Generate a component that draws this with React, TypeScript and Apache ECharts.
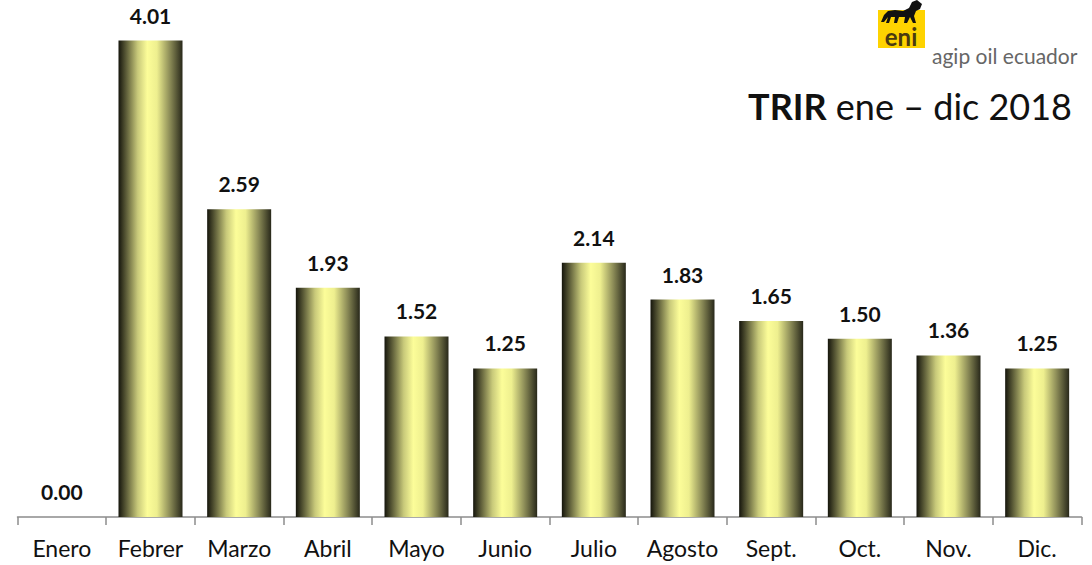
import React, { useEffect, useRef } from "react";
import * as echarts from "echarts";

const categories = ["Enero", "Febrer", "Marzo", "Abril", "Mayo", "Junio", "Julio", "Agosto", "Sept.", "Oct.", "Nov.", "Dic."];
const values = [0.0, 4.01, 2.59, 1.93, 1.52, 1.25, 2.14, 1.83, 1.65, 1.5, 1.36, 1.25];
const titleBold = "TRIR";
const titleRest = " ene – dic 2018";
const brandText = "agip oil ecuador";

const FONT = "Lato, 'Open Sans', sans-serif";

const dogPath =
  "M2 22 L5 15 L9 11 L16 10 L24 11 L30 8 L33 2 L38 0 L43 4 L41 9 L37 11 L35 16 L37 23 L34 23 L31 17 L28 23 L25 23 L26 17 L20 17 L18 23 L15 23 L16 17 L12 17 L10 23 L7 23 L9 17 L5 22 Z";

export default function App() {
  const ref = useRef<HTMLDivElement>(null);
  useEffect(() => {
    if (!ref.current) return;
    try {
      echarts.graphic.registerShape("logo", echarts.graphic.extendPath(dogPath, {}));
    } catch (e) {}
    const chart = echarts.init(ref.current, null, { renderer: "svg" });
    const grad = new echarts.graphic.LinearGradient(0, 0, 1, 0, [
      { offset: 0, color: "#15150c" },
      { offset: 0.12, color: "#5c5c38" },
      { offset: 0.3, color: "#c8c97a" },
      { offset: 0.45, color: "#fcfd99" },
      { offset: 0.6, color: "#eeef8f" },
      { offset: 0.8, color: "#8d8d58" },
      { offset: 1, color: "#28281a" },
    ]);
    chart.setOption({
      animation: false,
      backgroundColor: "#ffffff",
      grid: { left: 17.5, right: 10.5, top: 18, bottom: 48, containLabel: false },
      xAxis: {
        type: "category",
        data: categories,
        axisLine: { show: true, lineStyle: { color: "#8c8c8c", width: 1.5 } },
        axisTick: { show: true, length: 8, inside: false, lineStyle: { color: "#8c8c8c", width: 1.5 } },
        axisLabel: { color: "#111", fontSize: 23, fontFamily: FONT, margin: 19, interval: 0 },
      },
      yAxis: {
        type: "value",
        min: 0,
        max: 4.2,
        show: false,
        splitLine: { show: false },
      },
      series: [
        {
          type: "bar",
          data: values,
          barWidth: 64,
          itemStyle: { color: grad },
          label: {
            show: true,
            position: "top",
            distance: 15,
            formatter: (p: any) => Number(p.value).toFixed(2),
            fontSize: 21,
            fontWeight: "bold",
            fontFamily: FONT,
            color: "#111",
          },
        },
      ],
      graphic: [
        { type: "rect", shape: { x: 878, y: 10, width: 47, height: 38 }, style: { fill: "#fed300" } },
        { type: "logo", x: 879, y: 0, scaleX: 1.0, scaleY: 1.0, style: { fill: "#111" } },
        {
          type: "text",
          x: 901,
          y: 48,
          style: { text: "eni", fill: "#4a3a10", font: "bold 24px " + FONT, textAlign: "center", textVerticalAlign: "bottom" },
        },
        {
          type: "text",
          x: 932,
          y: 55,
          style: { text: brandText, fill: "#666666", font: "21px " + FONT, textVerticalAlign: "middle" },
        },
        {
          type: "text",
          right: 20,
          top: 88,
          style: {
            text: "{b|" + titleBold + "}{r|" + titleRest + "}",
            rich: {
              b: { font: "bold 36px " + FONT, fill: "#111" },
              r: { font: "36px " + FONT, fill: "#111" },
            },
          },
        },
      ],
    });
    return () => chart.dispose();
  }, []);
  return <div ref={ref} style={{ position: "absolute", left: 0, top: 0, width: 1092, height: 565 }} />;
}
